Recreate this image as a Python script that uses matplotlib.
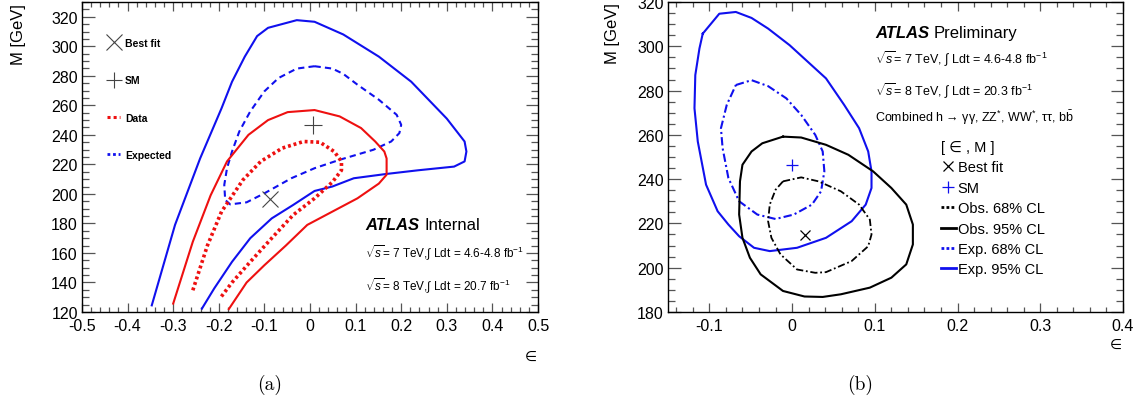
import matplotlib
matplotlib.use('Agg')
import matplotlib.pyplot as plt
from matplotlib.lines import Line2D
from matplotlib.ticker import FixedLocator, MultipleLocator, FuncFormatter

plt.rcParams['font.family'] = ['Liberation Sans', 'DejaVu Sans']
plt.rcParams['axes.unicode_minus'] = False
plt.rcParams['mathtext.fontset'] = 'custom'
plt.rcParams['mathtext.rm'] = 'Liberation Sans'
plt.rcParams['mathtext.it'] = 'Liberation Sans:italic'
plt.rcParams['mathtext.bf'] = 'Liberation Sans:bold'
plt.rcParams['mathtext.sf'] = 'Liberation Sans'

# ---------------- Panel (a) data ----------------
a_exp95_eps = [-0.347, -0.296, -0.241, -0.194, -0.171, -0.143, -0.116, -0.092, -0.029, 0.010,
               0.073, 0.151, 0.222, 0.300, 0.339, 0.343, 0.339, 0.316, 0.237, 0.167,
               0.096, 0.049, 0.010, -0.037, -0.084, -0.131, -0.171, -0.210, -0.237]
a_exp95_M = [124.5, 179, 224, 258, 276, 293, 306.9, 312.5, 317.7, 316.6,
             308, 293, 276, 251, 235.5, 228.7, 222, 218.5, 216, 213.5,
             210.6, 205, 202, 192.5, 183.4, 170, 154, 136, 122.3]

a_exp68_eps = [0.010, 0.049, 0.073, 0.104, 0.151, 0.190, 0.200, 0.196, 0.178, 0.139,
               0.065, 0.010, -0.041, -0.100, -0.139, -0.175, -0.186, -0.188, -0.182, -0.171,
               -0.155, -0.131, -0.100, -0.069, -0.029, 0.010]
a_exp68_M = [286.5, 284.9, 281.3, 274, 263.8, 253.6, 246.8, 241.2, 235.5, 229.9,
             223.1, 217.4, 210.6, 200.4, 194.3, 192.9, 195.9, 206.1, 217.4, 228.7,
             242.3, 255.9, 269.5, 278.5, 284.9, 286.5]

a_obs95_eps = [-0.300, -0.257, -0.218, -0.182, -0.135, -0.092, -0.049, 0.010, 0.065, 0.112,
               0.143, 0.163, 0.168, 0.168, 0.151, 0.104, 0.049, -0.006, -0.053, -0.100,
               -0.139, -0.178]
a_obs95_M = [125.7, 167.6, 199, 222, 240, 250, 255.4, 256.8, 252.5, 244.6,
             235.5, 228.7, 224, 213, 207, 197, 188, 179, 165, 151.7,
             140, 122]

a_obs68_eps = [-0.257, -0.225, -0.194, -0.147, -0.108, -0.061, -0.014, 0.022, 0.053, 0.069,
               0.069, 0.049, 0.010, -0.037, -0.084, -0.131, -0.171, -0.198]
a_obs68_M = [134.7, 165, 188, 209.5, 222, 231, 235.5, 235, 228.7, 222,
             216, 208, 197, 185.7, 170, 154, 140, 129]

a_bestfit = (-0.087, 196.3)
a_sm = (0.006, 246.6)
a_xticks = [-0.5, -0.4, -0.3, -0.2, -0.1, 0.0, 0.1, 0.2, 0.3, 0.4, 0.5]
a_yticks = [120, 140, 160, 180, 200, 220, 240, 260, 280, 300, 320]
a_legend_labels = ['Best fit', 'SM', 'Data', 'Expected']

# ---------------- Panel (b) data ----------------
b_exp95_eps = [-0.108, -0.088, -0.068, -0.049, -0.029, -0.003, 0.019, 0.041, 0.063, 0.081,
               0.092, 0.096, 0.096, 0.089, 0.072, 0.041, 0.006, -0.027, -0.046, -0.064,
               -0.077, -0.090, -0.104, -0.114, -0.118, -0.117, -0.112, -0.108]
b_exp95_M = [305.7, 314.7, 315.5, 312.8, 308, 300.5, 293, 285.5, 273.5, 263,
             252.5, 243.5, 236, 228.5, 221, 213.5, 209, 207.5, 209, 214.2,
             219.5, 225.5, 237.5, 257, 272, 287, 299, 305.7]

b_exp68_eps = [-0.068, -0.049, -0.029, -0.007, 0.011, 0.028, 0.037, 0.039, 0.035, 0.024,
               0.002, -0.020, -0.042, -0.064, -0.077, -0.084, -0.086, -0.079, -0.068]
b_exp68_M = [282.5, 284.7, 282, 276.5, 269, 260, 252.5, 243.5, 234.5, 228.5,
             224, 222, 224, 230, 240.5, 254, 263, 273.5, 282.5]

b_obs95_eps = [-0.011, 0.011, 0.041, 0.068, 0.098, 0.120, 0.138, 0.146, 0.146, 0.138,
               0.120, 0.094, 0.059, 0.037, 0.015, -0.011, -0.038, -0.051, -0.060, -0.064,
               -0.063, -0.060, -0.049, -0.036, -0.011]
b_obs95_M = [259.2, 258.8, 255.5, 251, 243.5, 236, 228.5, 219.5, 210.5, 201.5,
             195.5, 191, 188, 186.8, 187, 189.5, 197, 204.5, 213.5, 224,
             239, 246.5, 252.5, 256.2, 259.2]

b_obs68_eps = [-0.011, 0.011, 0.032, 0.059, 0.081, 0.094, 0.096, 0.092, 0.072, 0.041,
               0.028, 0.006, -0.014, -0.025, -0.029, -0.027, -0.020, -0.011]
b_obs68_M = [239, 240.8, 239, 234.5, 228.5, 221.7, 215, 209.7, 203, 198,
             197.7, 199.2, 206, 213.5, 221, 228.5, 235.2, 239]

b_bestfit = (0.015, 214.6)
b_sm = (0.0, 246.2)
b_xticks = [-0.1, 0.0, 0.1, 0.2, 0.3, 0.4]
b_yticks = [180, 200, 220, 240, 260, 280, 300, 320]
b_legend_labels = ['Best fit', 'SM', 'Obs. 68% CL', 'Obs. 95% CL', 'Exp. 68% CL', 'Exp. 95% CL']

W, H = 1143, 410
fig = plt.figure(figsize=(W / 100, H / 100), dpi=100)

def px_rect(x0, x1, ytop, ybot):
    return [x0 / W, 1 - ybot / H, (x1 - x0) / W, (ybot - ytop) / H]

axA = fig.add_axes(px_rect(82, 538, 3, 313))
axB = fig.add_axes(px_rect(668, 1123, 3, 313))

fmt = FuncFormatter(lambda v, p: '%g' % round(v, 3))

def style_axes(ax, xlim, ylim, xticks, yticks):
    ax.set_xlim(*xlim)
    ax.set_ylim(*ylim)
    ax.xaxis.set_major_locator(FixedLocator(xticks))
    ax.yaxis.set_major_locator(FixedLocator(yticks))
    ax.xaxis.set_minor_locator(MultipleLocator(0.02))
    ax.yaxis.set_minor_locator(MultipleLocator(5))
    ax.xaxis.set_major_formatter(fmt)
    ax.yaxis.set_major_formatter(fmt)
    ax.tick_params(which='both', direction='in', top=True, right=True, color='#555555',
                   labelsize=11.5, width=0.9)
    ax.tick_params(axis='x', which='major', length=6.5, pad=4)
    ax.tick_params(axis='x', which='minor', length=3.5)
    ax.tick_params(axis='y', which='major', length=9, pad=3)
    ax.tick_params(axis='y', which='minor', length=5)
    for s in ax.spines.values():
        s.set_linewidth(1.0)
        s.set_color('black')

# ---------- Panel (a) ----------
style_axes(axA, (-0.5, 0.5), (120, 330), a_xticks, a_yticks)
axA.plot(a_exp95_eps, a_exp95_M, color='#1010ee', lw=1.5)
axA.plot(a_exp68_eps, a_exp68_M, color='#1010ee', lw=1.5, ls=(0, (3, 2)))
axA.plot(a_obs95_eps, a_obs95_M, color='#ee1010', lw=1.5)
axA.plot(a_obs68_eps, a_obs68_M, color='#ee1010', lw=2.6, ls=(0, (0.8, 0.8)))
axA.plot(*a_bestfit, marker='x', ms=12, mew=0.8, color='#444444', ls='none')
axA.plot(*a_sm, marker='+', ms=13, mew=0.8, color='#444444', ls='none')

hA = [Line2D([], [], marker='x', ms=11, mew=0.8, color='#444444', ls='none'),
      Line2D([], [], marker='+', ms=12, mew=0.8, color='#444444', ls='none'),
      Line2D([], [], color='#ee1010', lw=2.2, ls=(0, (1, 1))),
      Line2D([], [], color='#1010ee', lw=2.0, ls=(0, (1, 1)))]
axA.legend(hA, a_legend_labels, loc='upper left', bbox_to_anchor=(0.055, 0.884),
           frameon=False, prop={'weight': 'bold', 'size': 7.5}, labelspacing=2.62,
           handlelength=1.25, handletextpad=0.45, borderpad=0, borderaxespad=0)

tA = axA.text(0.621, 0.281, 'ATLAS', transform=axA.transAxes, fontsize=12,
              fontweight='bold', fontstyle='italic', va='center', ha='left')
axA.annotate('Internal', xy=(1, 0), xycoords=tA, xytext=(4, 0), textcoords='offset points',
             fontsize=12, va='bottom', ha='left')
axA.text(0.621, 0.194, r'$\sqrt{s}$= 7 TeV,$\int$ Ldt = 4.6-4.8 fb$^{-1}$',
         transform=axA.transAxes, fontsize=8.5, va='center', ha='left')
axA.text(0.621, 0.086, r'$\sqrt{s}$= 8 TeV,$\int$ Ldt = 20.7 fb$^{-1}$',
         transform=axA.transAxes, fontsize=8.5, va='center', ha='left')

# ---------- Panel (b) ----------
style_axes(axB, (-0.15, 0.4), (180, 320), b_xticks, b_yticks)
axB.plot(b_exp95_eps, b_exp95_M, color='#1010ee', lw=1.5)
axB.plot(b_exp68_eps, b_exp68_M, color='#1010ee', lw=1.5, ls=(0, (4, 1.5, 1, 1.5)))
axB.plot(b_obs95_eps, b_obs95_M, color='black', lw=1.5)
axB.plot(b_obs68_eps, b_obs68_M, color='black', lw=1.3, ls=(0, (4, 1.5, 1, 1.5)))
axB.plot(*b_bestfit, marker='x', ms=7, mew=0.9, color='black', ls='none')
axB.plot(*b_sm, marker='+', ms=8, mew=0.9, color='#1010ee', ls='none')

hB = [Line2D([], [], marker='x', ms=7, mew=0.9, color='black', ls='none'),
      Line2D([], [], marker='+', ms=8, mew=0.9, color='#1010ee', ls='none'),
      Line2D([], [], color='black', lw=2.0, ls=(0, (1, 0.8))),
      Line2D([], [], color='black', lw=2.0),
      Line2D([], [], color='#1010ee', lw=2.0, ls=(0, (1, 0.8))),
      Line2D([], [], color='#1010ee', lw=2.0)]
axB.legend(hB, b_legend_labels, loc='upper left', bbox_to_anchor=(0.6, 0.555),
           frameon=False, fontsize=10.5, labelspacing=0.44, title='[ \u2208 , M ]',
           title_fontsize=10.5, alignment='left',
           handlelength=1.0, handletextpad=0.15, borderpad=0, borderaxespad=0)

tB = axB.text(0.455, 0.903, 'ATLAS', transform=axB.transAxes, fontsize=12,
              fontweight='bold', fontstyle='italic', va='center', ha='left')
axB.annotate('Preliminary', xy=(1, 0), xycoords=tB, xytext=(3, 0), textcoords='offset points',
             fontsize=12, va='bottom', ha='left')
axB.text(0.455, 0.819, r'$\sqrt{s}$= 7 TeV, $\int$ Ldt = 4.6-4.8 fb$^{-1}$',
         transform=axB.transAxes, fontsize=9, va='center', ha='left')
axB.text(0.455, 0.716, r'$\sqrt{s}$= 8 TeV, $\int$ Ldt = 20.3 fb$^{-1}$',
         transform=axB.transAxes, fontsize=9, va='center', ha='left')
axB.text(0.455, 0.629,
         'Combined h \u2192 \u03b3\u03b3, ZZ$^{*}$, WW$^{*}$, \u03c4\u03c4, b$\\bar{\\mathrm{b}}$',
         transform=axB.transAxes, fontsize=9, va='center', ha='left')

# axis titles
fig.text(18 / W, 1 - 4 / H, 'M [GeV]', rotation=90, fontsize=12, ha='center', va='top')
fig.text(612 / W, 1 - 3 / H, 'M [GeV]', rotation=90, fontsize=12, ha='center', va='top')
fig.text(531 / W, 1 - 357 / H, '\u2208', fontsize=10, ha='center', va='center')
fig.text(1116 / W, 1 - 345 / H, '\u2208', fontsize=10, ha='center', va='center')

fig.text(270 / W, 1 - 385 / H, '(a)', fontfamily='cmr10', fontsize=14, ha='center', va='center')
fig.text(860 / W, 1 - 385 / H, '(b)', fontfamily='cmr10', fontsize=14, ha='center', va='center')

fig.savefig('out.png', dpi=100)
